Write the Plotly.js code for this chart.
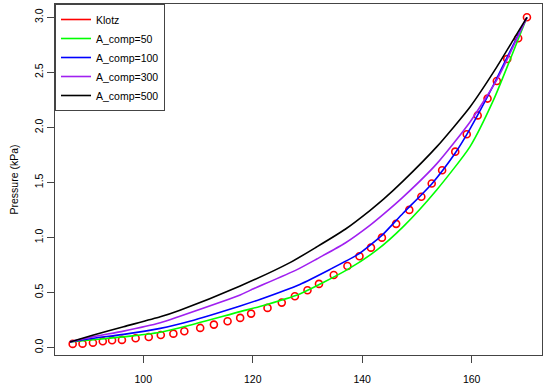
<!DOCTYPE html>
<html>
<head>
<meta charset="utf-8">
<script src="https://cdn.plot.ly/plotly-3.0.1.min.js"></script>
<style>
html,body{margin:0;padding:0;background:#fff;}
#chart{width:550px;height:386px;}
</style>
</head>
<body>
<div id="chart"></div>
<script>
// Klotz reference points
var klotzX = [87.1, 88.9, 90.8, 92.6, 94.3, 96.1, 98.6, 101.0, 103.2, 105.5, 107.5, 110.4, 112.9, 115.4, 117.7, 119.7, 122.7, 125.3, 127.7, 130.0, 132.1, 134.8, 137.3, 139.5, 141.6, 143.6, 146.2, 148.6, 150.8, 152.7, 154.6, 157.0, 159.1, 161.1, 162.9, 164.6, 166.5, 168.5, 170.1];
var klotzY = [0.034, 0.036, 0.045, 0.058, 0.067, 0.070, 0.085, 0.097, 0.115, 0.127, 0.149, 0.179, 0.209, 0.240, 0.270, 0.309, 0.361, 0.409, 0.467, 0.521, 0.579, 0.660, 0.742, 0.830, 0.908, 0.999, 1.124, 1.251, 1.371, 1.490, 1.611, 1.780, 1.938, 2.109, 2.262, 2.422, 2.622, 2.810, 3.0];

// A_comp = 50
var comp50X = [86.6, 90.9, 96.4, 103.1, 106.7, 117.7, 121.3, 128.6, 137.2, 142.7, 147.5, 153.6, 159.7, 164.0, 167.0, 170.1];
var comp50Y = [0.052, 0.072, 0.098, 0.140, 0.180, 0.327, 0.374, 0.488, 0.706, 0.887, 1.099, 1.432, 1.826, 2.250, 2.613, 3.0];

// A_comp = 100
var comp100X = [86.6, 90.9, 96.4, 103.1, 108.5, 117.7, 121.3, 128.6, 134.1, 139.4, 141.4, 143.6, 147.5, 152.7, 157.0, 159.7, 164.0, 166.7, 170.1];
var comp100Y = [0.052, 0.085, 0.120, 0.175, 0.240, 0.379, 0.438, 0.574, 0.710, 0.851, 0.928, 1.019, 1.223, 1.487, 1.768, 1.987, 2.386, 2.659, 3.0];

// A_comp = 300
var comp300X = [86.6, 90.9, 96.4, 103.1, 106.7, 117.7, 119.5, 128.0, 131.7, 136.9, 141.4, 143.9, 147.5, 153.6, 159.7, 164.6, 166.7, 170.1];
var comp300Y = [0.052, 0.100, 0.150, 0.225, 0.285, 0.478, 0.520, 0.706, 0.805, 0.950, 1.110, 1.212, 1.369, 1.669, 2.050, 2.432, 2.641, 3.0];

// A_comp = 500
var comp500X = [86.6, 90.9, 96.4, 103.1, 106.7, 117.7, 126.8, 131.7, 136.9, 141.4, 143.9, 147.5, 153.6, 159.7, 164.6, 167.9, 170.1];
var comp500Y = [0.052, 0.115, 0.190, 0.280, 0.340, 0.560, 0.772, 0.915, 1.075, 1.245, 1.348, 1.514, 1.823, 2.186, 2.550, 2.820, 3.0];

var seriesNames = ["Klotz", "A_comp=50", "A_comp=100", "A_comp=300", "A_comp=500"];
var seriesColors = ["#FF0000", "#00FF00", "#0000FF", "#A020F0", "#000000"];
var xTicks = [100, 120, 140, 160];
var yTicks = [0.0, 0.5, 1.0, 1.5, 2.0, 2.5, 3.0];

var font = "Liberation Sans, Arial, Helvetica, sans-serif";

var traces = [];
traces.push({
  x: klotzX, y: klotzY, mode: "markers", showlegend: false, name: seriesNames[0],
  marker: {symbol: "circle-open", size: 7, color: seriesColors[0], line: {width: 1.6, color: seriesColors[0]}}
});
// legend entry for Klotz drawn as a line, as in the original
traces.push({
  x: [null], y: [null], mode: "lines", name: seriesNames[0],
  line: {color: seriesColors[0], width: 1.6}
});
var lineX = [comp50X, comp100X, comp300X, comp500X];
var lineY = [comp50Y, comp100Y, comp300Y, comp500Y];
for (var i = 0; i < 4; i++) {
  traces.push({
    x: lineX[i], y: lineY[i], mode: "lines", name: seriesNames[i + 1],
    line: {color: seriesColors[i + 1], width: 1.6, shape: "spline", smoothing: 0.6}
  });
}

var layout = {
  width: 550, height: 386,
  margin: {l: 55, r: 8, t: 4, b: 31, pad: 0},
  paper_bgcolor: "#ffffff", plot_bgcolor: "#ffffff",
  font: {family: font, size: 10.5, color: "#000"},
  showlegend: true,
  legend: {
    x: 0, y: 1, xanchor: "left", yanchor: "top",
    bgcolor: "#ffffff", bordercolor: "#444", borderwidth: 1,
    font: {family: font, size: 10.5, color: "#000"},
    itemwidth: 30, tracegroupgap: 0
  },
  xaxis: {
    range: [83.87, 172.85], tickmode: "array", tickvals: xTicks, ticktext: xTicks.map(String),
    showgrid: false, zeroline: false, showline: true, mirror: true,
    linecolor: "#444", linewidth: 1, ticks: "outside", ticklen: 7, tickcolor: "#444", tickwidth: 1,
    ticklabelstandoff: 7,
    tickfont: {family: font, size: 10.5, color: "#000"}
  },
  yaxis: {
    range: [-0.067, 3.121], tickmode: "array", tickvals: yTicks, ticktext: yTicks.map(function(v){return v.toFixed(1);}),
    tickangle: -90,
    showgrid: false, zeroline: false, showline: true, mirror: true,
    linecolor: "#444", linewidth: 1, ticks: "outside", ticklen: 7, tickcolor: "#444", tickwidth: 1,
    tickfont: {family: font, size: 10.5, color: "#000"},
    title: {text: "Pressure (kPa)", font: {family: font, size: 10.5, color: "#000"}, standoff: 12}
  }
};

Plotly.newPlot("chart", traces, layout, {displayModeBar: false, staticPlot: true});
</script>
</body>
</html>
